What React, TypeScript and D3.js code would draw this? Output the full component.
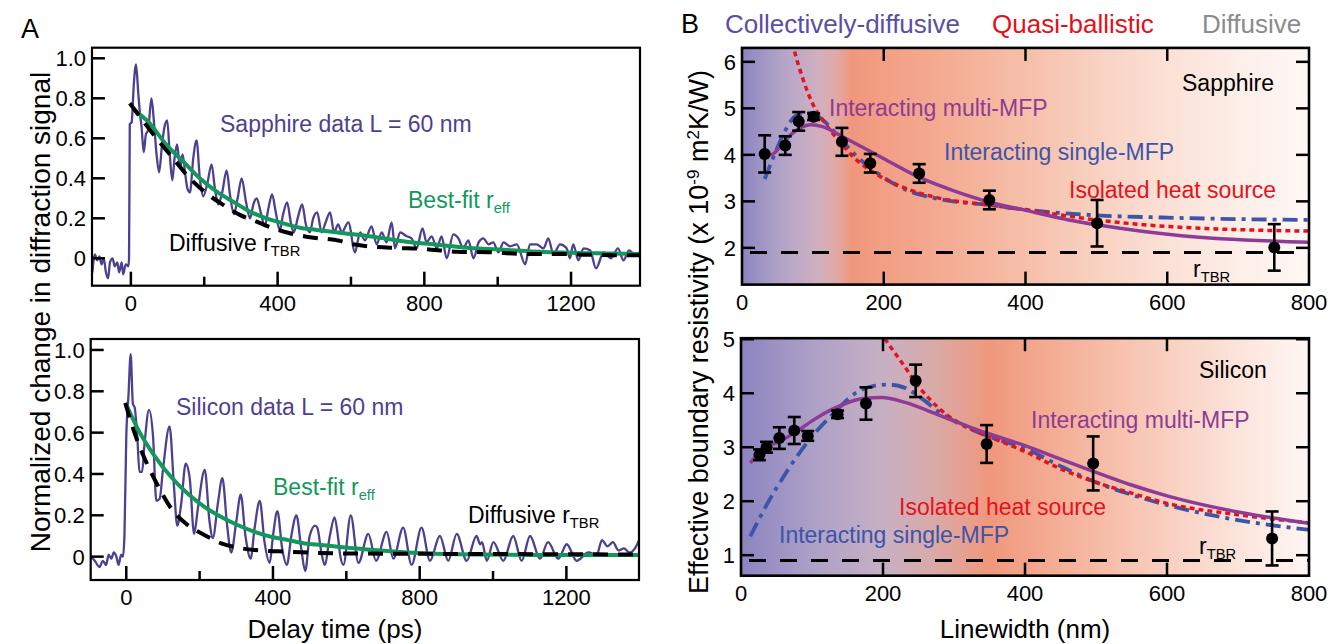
import React from 'react';
import * as d3 from 'd3';

type Pt = [number, number];

// ---------- Panel A : delay time (ps) vs normalized signal ----------
const sapphireTrace: Pt[] = [
  [-105, -0.07], [-98, 0.02], [-92, -0.01], [-86, 0.01], [-80, -0.03], [-74, 0.0], [-68, -0.07], [-62, -0.1],
  [-57, -0.02], [-50, 0.0], [-44, -0.04], [-37, -0.02], [-32, -0.07], [-25, -0.02], [-21, -0.08], [-14, -0.03],
  [-7, -0.04], [-5, 0.0], [-3, 0.67], [2, 0.68], [8, 0.87], [14, 0.97], [20, 0.83], [25, 0.72], [29, 0.66],
  [35, 0.53], [41, 0.62], [47, 0.64], [56, 0.8], [63, 0.68], [70, 0.52], [77, 0.43], [85, 0.57], [92, 0.66],
  [99, 0.69], [106, 0.52], [113, 0.39], [119, 0.5], [126, 0.57], [134, 0.45], [141, 0.52], [147, 0.44],
  [154, 0.35], [161, 0.33], [170, 0.5], [179, 0.59], [188, 0.4], [197, 0.31], [208, 0.37], [220, 0.47],
  [229, 0.35], [238, 0.27], [249, 0.33], [261, 0.44], [270, 0.32], [281, 0.22], [291, 0.3], [302, 0.4],
  [314, 0.28], [325, 0.2], [334, 0.27], [343, 0.3], [354, 0.23], [365, 0.16], [375, 0.25], [385, 0.32],
  [395, 0.23], [406, 0.14], [415, 0.22], [426, 0.28], [436, 0.18], [444, 0.13], [456, 0.21], [467, 0.27],
  [477, 0.17], [488, 0.13], [497, 0.2], [508, 0.23], [520, 0.13], [531, 0.18], [543, 0.23], [554, 0.13],
  [565, 0.17], [575, 0.13], [593, 0.18], [611, 0.03], [625, 0.13], [638, 0.09], [656, 0.16], [670, 0.07],
  [684, 0.13], [697, 0.08], [711, 0.18], [720, 0.05], [734, 0.13], [752, 0.11], [765, 0.1], [779, 0.05],
  [795, 0.15], [806, 0.08], [820, 0.11], [834, 0.05], [847, 0.11], [861, 0.0], [879, 0.12], [893, 0.1],
  [906, 0.05], [920, 0.09], [934, 0.0], [948, 0.08], [961, 0.1], [975, 0.07], [988, 0.08], [1002, 0.03],
  [1016, 0.08], [1034, 0.06], [1052, 0.07], [1075, -0.03], [1088, 0.07], [1106, 0.07], [1125, 0.05],
  [1138, 0.1], [1152, 0.02], [1170, 0.07], [1188, 0.05], [1197, 0.0], [1206, 0.07], [1220, -0.01],
  [1234, 0.05], [1252, 0.04], [1268, -0.05], [1289, 0.03], [1309, 0.0], [1328, 0.05], [1343, -0.01],
  [1358, 0.04], [1373, 0.02], [1388, 0.03],
];
const sapphireBestFit: Pt[] = [
  [10, 0.74], [47, 0.683], [97, 0.567], [143, 0.483], [188, 0.4], [234, 0.333], [279, 0.283], [325, 0.233],
  [370, 0.2], [415, 0.175], [461, 0.153], [506, 0.142], [570, 0.128], [661, 0.108], [752, 0.083],
  [843, 0.067], [934, 0.05], [1025, 0.042], [1115, 0.033], [1270, 0.025], [1388, 0.022],
];
const sapphireDiffusive: Pt[] = [
  [-3, 0.775], [70, 0.6], [115, 0.5], [161, 0.4], [206, 0.325], [252, 0.267], [297, 0.217], [343, 0.183],
  [388, 0.15], [434, 0.125], [479, 0.108], [570, 0.087], [606, 0.07], [706, 0.053], [797, 0.047],
  [888, 0.033], [979, 0.03], [1070, 0.022], [1161, 0.022], [1261, 0.017], [1388, 0.015],
];

const siliconTrace: Pt[] = [
  [-97, 0.0], [-86, -0.02], [-73, -0.05], [-64, -0.02], [-55, -0.04], [-48, 0.01], [-41, -0.01], [-34, 0.02],
  [-27, 0.0], [-21, -0.04], [-14, 0.01], [-9, 0.0], [-5, 0.1], [0, 0.58], [6, 0.78], [12, 0.98], [18, 0.74],
  [23, 0.72], [30, 0.58], [36, 0.41], [43, 0.41], [50, 0.55], [62, 0.71], [73, 0.58], [82, 0.27], [91, 0.28],
  [100, 0.42], [118, 0.63], [130, 0.34], [139, 0.15], [150, 0.26], [162, 0.45], [173, 0.38], [185, 0.11],
  [195, 0.23], [214, 0.42], [227, 0.17], [236, 0.09], [250, 0.26], [262, 0.38], [275, 0.15], [286, 0.02],
  [300, 0.17], [312, 0.3], [325, 0.1], [339, -0.01], [350, 0.14], [364, 0.27], [377, 0.07], [391, -0.03],
  [400, 0.1], [412, 0.22], [425, 0.04], [438, -0.04], [450, 0.1], [464, 0.2], [477, 0.04], [488, -0.07],
  [500, 0.1], [515, 0.15], [521, 0.14], [532, 0.02], [541, -0.04], [555, 0.1], [568, 0.19], [577, 0.1],
  [583, 0.01], [592, -0.04], [612, 0.2], [633, -0.03], [660, 0.11], [681, -0.02], [710, 0.12], [728, -0.01],
  [755, 0.14], [778, -0.04], [805, 0.14], [828, -0.02], [855, 0.1], [878, -0.02], [901, 0.11], [928, -0.02],
  [955, 0.1], [965, 0.06], [970, 0.07], [983, -0.02], [1001, 0.07], [1028, -0.02], [1055, 0.1], [1078, -0.02],
  [1101, 0.1], [1128, -0.01], [1150, 0.07], [1178, -0.01], [1201, 0.06], [1228, -0.02], [1260, 0.02],
  [1283, 0.01], [1297, 0.08], [1312, 0.05], [1327, 0.07], [1342, 0.03], [1357, 0.04], [1372, 0.02],
  [1387, 0.04], [1398, 0.08],
];
const siliconBestFit: Pt[] = [
  [0, 0.736], [32, 0.616], [77, 0.488], [123, 0.384], [168, 0.304], [214, 0.24], [259, 0.192], [305, 0.152],
  [350, 0.12], [395, 0.096], [441, 0.08], [486, 0.064], [532, 0.056], [577, 0.048], [674, 0.032],
  [810, 0.016], [946, 0.01], [1128, 0.008], [1398, 0.008],
];
const siliconDiffusive: Pt[] = [
  [-3, 0.744], [32, 0.552], [59, 0.44], [86, 0.344], [123, 0.232], [168, 0.152], [214, 0.104], [259, 0.064],
  [305, 0.043], [350, 0.032], [441, 0.024], [577, 0.016], [1283, 0.011], [1398, 0.01],
];

const delayMajorTicks = [0, 400, 800, 1200];
const delayMinorTicks = [200, 600, 1000];
const signalTicks = [0, 0.2, 0.4, 0.6, 0.8, 1.0];
const signalTickLabels = ['0', '0.2', '0.4', '0.6', '0.8', '1.0'];

// ---------- Panel B : linewidth (nm) vs effective boundary resistivity ----------
const sapphireLinewidth = [32, 61, 80, 101, 141, 181, 250, 349, 501, 751];
const sapphireResist = [4.02, 4.2, 4.72, 4.82, 4.28, 3.82, 3.6, 3.03, 2.53, 2.01];
const sapphireErr = [0.4, 0.2, 0.2, 0.07, 0.3, 0.2, 0.2, 0.2, 0.5, 0.5];

const siliconLinewidth = [26, 36, 54, 75, 94, 136, 176, 246, 346, 496, 748];
const siliconResist = [2.86, 3.0, 3.17, 3.31, 3.21, 3.61, 3.81, 4.23, 3.06, 2.7, 1.31];
const siliconErr = [0.1, 0.1, 0.2, 0.25, 0.09, 0.07, 0.3, 0.3, 0.35, 0.5, 0.5];

const sapphireMultiMFP: Pt[] = [
  [31, 4.0], [41, 4.0], [55, 4.2], [70, 4.45], [85, 4.6], [97, 4.65], [115, 4.6], [142, 4.39], [195, 3.96],
  [248, 3.53], [302, 3.21], [355, 2.96], [402, 2.8], [461, 2.6], [503, 2.49], [567, 2.35], [620, 2.26],
  [800, 2.12],
];
const sapphireSingleMFP: Pt[] = [
  [32, 3.48], [44, 3.94], [62, 4.55], [77, 4.85], [98, 4.9], [114, 4.75], [138, 4.36], [161, 3.98],
  [189, 3.63], [231, 3.25], [278, 3.05], [349, 2.92], [400, 2.82], [500, 2.7], [600, 2.65], [800, 2.6],
];
const sapphireIsolated: Pt[] = [
  [68, 6.6], [72, 6.35], [86, 5.63], [100, 5.09], [114, 4.75], [138, 4.28], [161, 3.9], [189, 3.59],
  [231, 3.28], [278, 3.07], [349, 2.92], [400, 2.82], [500, 2.6], [600, 2.46], [800, 2.36],
];

const siliconMultiMFP: Pt[] = [
  [13, 2.71], [34, 3.0], [53, 3.1], [77, 3.28], [105, 3.53], [138, 3.76], [170, 3.9], [199, 3.92],
  [231, 3.83], [278, 3.6], [325, 3.36], [349, 3.25], [402, 3.02], [450, 2.78], [497, 2.55], [550, 2.3],
  [600, 2.1], [700, 1.8], [800, 1.59],
];
const siliconSingleMFP: Pt[] = [
  [13, 1.35], [34, 1.88], [67, 2.6], [100, 3.2], [133, 3.66], [161, 4.0], [189, 4.14], [208, 4.16],
  [231, 4.1], [255, 3.9], [278, 3.66], [325, 3.33], [349, 3.2], [400, 2.98], [450, 2.65], [500, 2.35],
  [550, 2.12], [600, 1.93], [700, 1.65], [800, 1.47],
];
const siliconIsolated: Pt[] = [
  [195, 5.15], [203, 5.0], [227, 4.56], [250, 4.13], [278, 3.73], [325, 3.33], [349, 3.2], [400, 2.92],
  [450, 2.6], [500, 2.35], [550, 2.15], [600, 1.96], [700, 1.75], [800, 1.6],
];

const sapphireTBR = 1.9;
const siliconTBR = 0.9;

const linewidthTicks = [0, 200, 400, 600, 800];
const sapphireResistTicks = [2, 3, 4, 5, 6];
const siliconResistTicks = [1, 2, 3, 4, 5];

// regime shading (nm position, colour)
const sapphireShadeNm = [0, 30, 70, 110, 135, 155, 200, 300, 400, 500, 600, 700, 800];
const sapphireShadeColor = ['#8b84c0', '#a197c5', '#bba8c8', '#d2afbe', '#e3a8a3', '#f0977b', '#f29f84',
  '#f4ae95', '#f6bfa9', '#f9d1c1', '#fbe1d6', '#fdeee8', '#fff8f6'];
const siliconShadeNm = [0, 100, 200, 270, 330, 350, 420, 500, 600, 700, 800];
const siliconShadeColor = ['#8b84c0', '#ada0c7', '#c7b0c4', '#d9aaa9', '#ea9d88', '#f0977c', '#f3a88f',
  '#f6baa4', '#f9cfc0', '#fce4db', '#fff6f3'];

const FONT = '"Liberation Sans", Arial, Helvetica, sans-serif';
const DATA_PURPLE = '#4e3f90';
const FIT_GREEN = '#13985a';
const MULTI_PURPLE = '#8e3b96';
const SINGLE_BLUE = '#3d55a8';
const ISO_RED = '#e5121c';

const App = () => {
  const svgRef = React.useRef<SVGSVGElement>(null);

  React.useEffect(() => {
    const svg = d3.select(svgRef.current);
    svg.selectAll('*').remove();
    svg.style('font-family', FONT);
    const defs = svg.append('defs');

    const text = (x: number, y: number, s: string, size: number, color = '#000', anchor = 'start') =>
      svg.append('text')
        .attr('x', x).attr('y', y)
        .attr('font-size', size)
        .attr('fill', color)
        .attr('text-anchor', anchor)
        .text(s);

    const subText = (x: number, y: number, main: string, sub: string, size: number, color = '#000') => {
      const t = svg.append('text').attr('x', x).attr('y', y).attr('font-size', size).attr('fill', color);
      t.append('tspan').text(main);
      t.append('tspan').attr('dy', 5).attr('font-size', size * 0.64).text(sub);
    };

    const tick = (x1: number, y1: number, x2: number, y2: number, w = 2.5) =>
      svg.append('line')
        .attr('x1', x1).attr('y1', y1).attr('x2', x2).attr('y2', y2)
        .attr('stroke', '#000').attr('stroke-width', w);

    // ---------------- Panel A ----------------
    const drawA = (id: string, box: any, xDomain: number[], yDomain: number[],
      trace: Pt[], fit: Pt[], diff: Pt[]) => {
      const x = d3.scaleLinear().domain(xDomain).range([box.left, box.right]);
      const y = d3.scaleLinear().domain(yDomain).range([box.bottom, box.top]);

      defs.append('clipPath').attr('id', id).append('rect')
        .attr('x', box.left).attr('y', box.top)
        .attr('width', box.right - box.left).attr('height', box.bottom - box.top);

      const line = d3.line<Pt>().x(d => x(d[0])).y(d => y(d[1])).curve(d3.curveMonotoneX);
      const g = svg.append('g').attr('clip-path', `url(#${id})`);

      g.append('path').datum(trace).attr('d', line)
        .attr('fill', 'none').attr('stroke', DATA_PURPLE).attr('stroke-width', 2.3)
        .attr('stroke-linejoin', 'round');
      g.append('path').datum(fit).attr('d', line)
        .attr('fill', 'none').attr('stroke', FIT_GREEN).attr('stroke-width', 4);
      g.append('path').datum(diff).attr('d', line)
        .attr('fill', 'none').attr('stroke', '#000').attr('stroke-width', 4)
        .attr('stroke-dasharray', '15 10');

      svg.append('rect')
        .attr('x', box.left).attr('y', box.top)
        .attr('width', box.right - box.left).attr('height', box.bottom - box.top)
        .attr('fill', 'none').attr('stroke', '#000').attr('stroke-width', 2.2);

      signalTicks.forEach((v, i) => {
        tick(box.left, y(v), box.left + 13, y(v));
        text(box.left - 6, y(v) + 8, signalTickLabels[i], 22, '#000', 'end');
      });
      delayMajorTicks.forEach(t => {
        tick(x(t), box.bottom, x(t), box.bottom - 14);
        text(x(t), box.bottom + 25, String(t), 22, '#000', 'middle');
      });
      delayMinorTicks.forEach(t => tick(x(t), box.bottom, x(t), box.bottom - 9));
    };

    drawA('clipA1', { left: 92, right: 640, top: 47.7, bottom: 285.7 }, [-106, 1388], [-0.137, 1.053],
      sapphireTrace, sapphireBestFit, sapphireDiffusive);
    drawA('clipA2', { left: 90.7, right: 639, top: 339, bottom: 580 }, [-97, 1398], [-0.113, 1.053],
      siliconTrace, siliconBestFit, siliconDiffusive);

    text(220, 132, 'Sapphire data L = 60 nm', 23, DATA_PURPLE);
    subText(408, 208, 'Best-fit r', 'eff', 23, FIT_GREEN);
    subText(169, 251, 'Diffusive r', 'TBR', 23, '#000');

    text(176, 415, 'Silicon data L = 60 nm', 23, DATA_PURPLE);
    subText(273, 495, 'Best-fit r', 'eff', 23, FIT_GREEN);
    subText(468, 523, 'Diffusive r', 'TBR', 23, '#000');

    text(335, 638, 'Delay time (ps)', 26, '#000', 'middle');
    svg.append('text')
      .attr('transform', 'translate(50,312) rotate(-90)')
      .attr('text-anchor', 'middle')
      .attr('font-size', 28)
      .text('Normalized change in diffraction signal');

    text(21, 38, 'A', 27);

    // ---------------- Panel B ----------------
    const drawB = (id: string, box: any, yDomain: number[], shadeNm: number[], shadeColor: string[],
      xs: number[], vals: number[], errs: number[], multi: Pt[], single: Pt[], iso: Pt[],
      tbr: number, yTicks: number[]) => {
      const x = d3.scaleLinear().domain([0, 800]).range([box.left, box.right]);
      const y = d3.scaleLinear().domain(yDomain).range([box.bottom, box.top]);

      const grad = defs.append('linearGradient').attr('id', id + 'bg')
        .attr('gradientUnits', 'userSpaceOnUse')
        .attr('x1', x(0)).attr('x2', x(800)).attr('y1', 0).attr('y2', 0);
      shadeNm.forEach((nm, i) => {
        grad.append('stop').attr('offset', nm / 800).attr('stop-color', shadeColor[i]);
      });
      defs.append('clipPath').attr('id', id).append('rect')
        .attr('x', box.left).attr('y', box.top)
        .attr('width', box.right - box.left).attr('height', box.bottom - box.top);

      svg.append('rect')
        .attr('x', box.left).attr('y', box.top)
        .attr('width', box.right - box.left).attr('height', box.bottom - box.top)
        .attr('fill', `url(#${id}bg)`);

      const g = svg.append('g').attr('clip-path', `url(#${id})`);
      const line = d3.line<Pt>().x(d => x(d[0])).y(d => y(d[1])).curve(d3.curveMonotoneX);

      g.append('line')
        .attr('x1', x(0) + 8).attr('x2', x(800)).attr('y1', y(tbr)).attr('y2', y(tbr))
        .attr('stroke', '#000').attr('stroke-width', 3).attr('stroke-dasharray', '17 14');

      g.append('path').datum(single).attr('d', line)
        .attr('fill', 'none').attr('stroke', SINGLE_BLUE).attr('stroke-width', 3.8)
        .attr('stroke-dasharray', '15 6 4 6');
      g.append('path').datum(iso).attr('d', line)
        .attr('fill', 'none').attr('stroke', ISO_RED).attr('stroke-width', 3.5)
        .attr('stroke-dasharray', '5 4');
      g.append('path').datum(multi).attr('d', line)
        .attr('fill', 'none').attr('stroke', MULTI_PURPLE).attr('stroke-width', 3.5);

      xs.forEach((nm, i) => {
        const cx = x(nm);
        const top = y(vals[i] + errs[i]);
        const bot = y(vals[i] - errs[i]);
        tick(cx, top, cx, bot, 2.6);
        tick(cx - 6.5, top, cx + 6.5, top, 2.6);
        tick(cx - 6.5, bot, cx + 6.5, bot, 2.6);
        svg.append('circle').attr('cx', cx).attr('cy', y(vals[i])).attr('r', 6).attr('fill', '#000');
      });

      svg.append('rect')
        .attr('x', box.left).attr('y', box.top)
        .attr('width', box.right - box.left).attr('height', box.bottom - box.top)
        .attr('fill', 'none').attr('stroke', '#000').attr('stroke-width', 2.6);

      yTicks.forEach(v => {
        tick(box.left, y(v), box.left + 13, y(v));
        tick(box.right, y(v), box.right - 13, y(v));
        text(box.left - 6, y(v) + 8, String(v), 22, '#000', 'end');
      });
      linewidthTicks.forEach(nm => {
        if (nm > 0 && nm < 800) {
          tick(x(nm), box.top, x(nm), box.top + 13);
          tick(x(nm), box.bottom, x(nm), box.bottom - 13);
        }
        text(x(nm), box.bottom + 25, String(nm), 22, '#000', 'middle');
      });
    };

    drawB('clipB1', { left: 742, right: 1309, top: 47.9, bottom: 284.6 }, [1.21, 6.3],
      sapphireShadeNm, sapphireShadeColor, sapphireLinewidth, sapphireResist, sapphireErr,
      sapphireMultiMFP, sapphireSingleMFP, sapphireIsolated, sapphireTBR, sapphireResistTicks);
    drawB('clipB2', { left: 741, right: 1309, top: 338.2, bottom: 575.7 }, [0.62, 5.02],
      siliconShadeNm, siliconShadeColor, siliconLinewidth, siliconResist, siliconErr,
      siliconMultiMFP, siliconSingleMFP, siliconIsolated, siliconTBR, siliconResistTicks);

    text(1182, 91, 'Sapphire', 23);
    text(829, 116, 'Interacting multi-MFP', 23, MULTI_PURPLE);
    text(944, 160, 'Interacting single-MFP', 23, SINGLE_BLUE);
    text(1069, 198, 'Isolated heat source', 23, ISO_RED);
    subText(1193, 277, 'r', 'TBR', 23);

    text(1199, 378, 'Silicon', 23);
    text(1031, 428, 'Interacting multi-MFP', 23, MULTI_PURPLE);
    text(899, 515, 'Isolated heat source', 23, ISO_RED);
    text(779, 543, 'Interacting single-MFP', 23, SINGLE_BLUE);
    subText(1199, 554, 'r', 'TBR', 23);

    text(1025, 638, 'Linewidth (nm)', 26, '#000', 'middle');
    const yt = svg.append('text')
      .attr('transform', 'translate(708,332) rotate(-90)')
      .attr('text-anchor', 'middle')
      .attr('font-size', 27);
    yt.append('tspan').text('Effective boundary resistivity (x 10');
    yt.append('tspan').attr('dy', -9).attr('font-size', 17).text('-9');
    yt.append('tspan').attr('dy', 9).text(' m');
    yt.append('tspan').attr('dy', -9).attr('font-size', 17).text('2');
    yt.append('tspan').attr('dy', 9).text('K/W)');

    text(681, 33, 'B', 27);
    text(725, 33, 'Collectively-diffusive', 26, '#5b4ea3');
    text(992, 33, 'Quasi-ballistic', 26, '#e3101b');
    text(1202, 33, 'Diffusive', 26, '#8c8c8c');
  }, []);

  return (
    <svg
      ref={svgRef}
      width={1332}
      height={644}
      style={{ position: 'absolute', left: 0, top: 0, background: '#fff' }}
    />
  );
};

export default App;
